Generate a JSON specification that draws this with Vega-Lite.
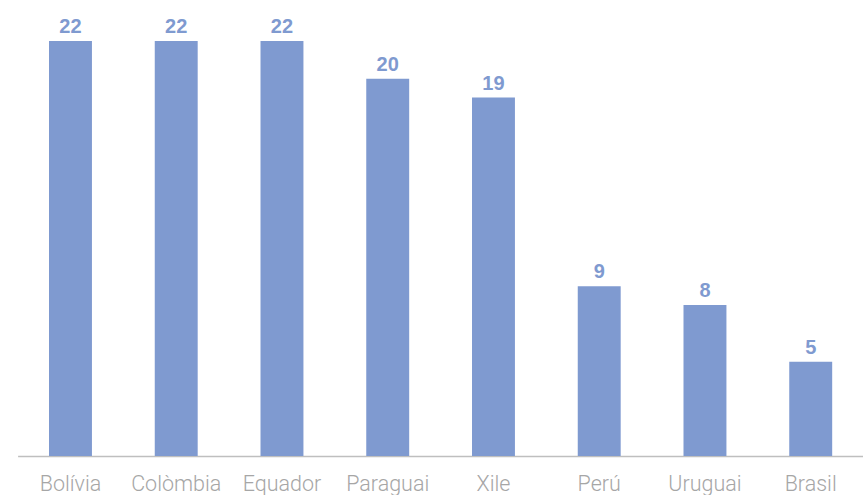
{
  "$schema": "https://vega.github.io/schema/vega-lite/v6.json",
  "autosize": {"type": "none"},
  "padding": {"left": 17.6, "top": 41, "right": 0, "bottom": 39},
  "width": 846,
  "height": 415,
  "background": "white",
  "config": {"view": {"stroke": null}},
  "data": {"values": [
    {"country": "Bolívia", "value": 22},
    {"country": "Colòmbia", "value": 22},
    {"country": "Equador", "value": 22},
    {"country": "Paraguai", "value": 20},
    {"country": "Xile", "value": 19},
    {"country": "Perú", "value": 9},
    {"country": "Uruguai", "value": 8},
    {"country": "Brasil", "value": 5}
  ]},
  "encoding": {
    "x": {"field": "country", "type": "nominal", "sort": null,
      "scale": {"paddingInner": 0.594, "paddingOuter": 0.297},
      "axis": {"title": null, "labelAngle": 0, "ticks": false, "tickSize": 0,
        "labelPadding": 35, "labelBaseline": "alphabetic",
        "labelFont": "Roboto", "labelFontWeight": 300, "labelFontSize": 21.5,
        "labelColor": "#a6a6a6", "domainColor": "#bfbfbf", "domainWidth": 1.5}},
    "y": {"field": "value", "type": "quantitative",
      "scale": {"domain": [0, 22], "nice": false},
      "axis": null}
  },
  "layer": [
    {"mark": {"type": "bar", "color": "#7f9ad0"}},
    {"mark": {"type": "text", "baseline": "alphabetic", "dy": -8, "font": "Liberation Sans", "fontWeight": "bold", "fontSize": 20, "color": "#7f9ad0"},
     "encoding": {"text": {"field": "value", "type": "quantitative"}}}
  ]
}
